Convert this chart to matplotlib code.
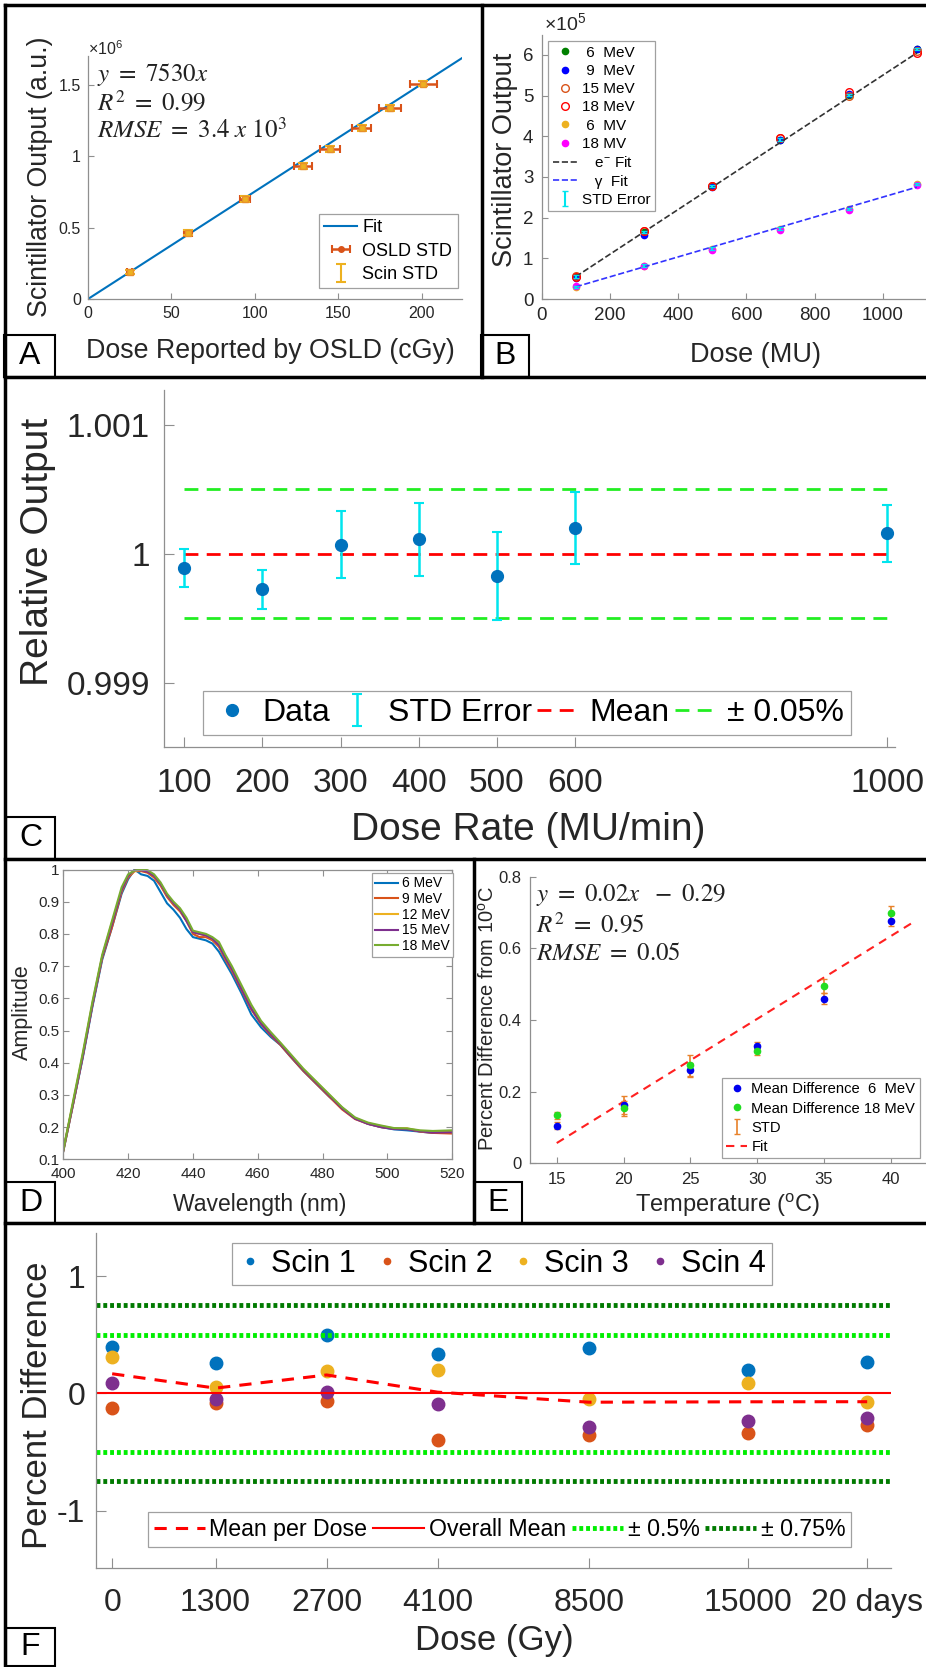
import numpy as np
import matplotlib
matplotlib.use('Agg')
import matplotlib.pyplot as plt
from matplotlib.lines import Line2D
from matplotlib.patches import Rectangle
from matplotlib.ticker import FuncFormatter

plt.rcParams['font.family'] = ['Liberation Sans', 'DejaVu Sans']
plt.rcParams['mathtext.fontset'] = 'custom'
plt.rcParams['mathtext.rm'] = 'Liberation Sans'
plt.rcParams['mathtext.it'] = 'Liberation Sans:italic'

W, H = 926, 1667

# ---------------- data ----------------
# A: scintillator vs OSLD
osld_dose = [25, 60, 94, 129, 145, 164, 181, 201]
osld_std = [1.5, 2.5, 3, 5.5, 6, 5.5, 6.5, 8]
scin_out = [0.19e6, 0.465e6, 0.70e6, 0.93e6, 1.05e6, 1.20e6, 1.34e6, 1.51e6]
scin_std = [0.015e6, 0.02e6, 0.02e6, 0.02e6, 0.02e6, 0.02e6, 0.02e6, 0.02e6]
fit_a_slope = 7530
fit_a_range = [0, 224]

# B: output vs MU
mu = [100, 300, 500, 700, 900, 1100]
out_6mev = [55000, 165000, 278000, 392000, 502000, 615000]
out_9mev = [52000, 158000, 276000, 390000, 503000, 615000]
out_15mev = [56000, 168000, 277000, 395000, 500000, 610000]
out_18mev = [55000, 167000, 277000, 395000, 508000, 605000]
out_6mv = [30000, 82000, 124000, 173000, 221000, 283000]
out_18mv = [33000, 80000, 120000, 169000, 218000, 280000]
std_b = [3000, 3000, 3000, 3000, 3000, 3000]
e_fit = (550, 0)
g_fit = (245, 5500)

# C: dose rate
dose_rate = [100, 200, 300, 400, 500, 600, 1000]
rel_out = [0.99989, 0.999724, 1.00007, 1.000111, 0.999827, 1.000198, 1.000159]
rel_err = [0.000148, 0.000153, 0.000262, 0.000286, 0.000343, 0.000281, 0.00022]
rel_mean = 1.0
rel_tol = 0.0005

# D: spectra
wl = [400, 403, 406, 409, 412, 415, 418, 420, 422, 424, 426, 428, 430, 432, 434,
      436, 438, 440, 442, 444, 446, 448, 450, 452, 455, 458, 461, 464, 467, 470,
      474, 478, 482, 486, 490, 494, 498, 502, 506, 510, 514, 520]
amp_6 = [0.125, 0.27, 0.415, 0.575, 0.72, 0.82, 0.925, 0.97, 1.0, 0.985, 0.98, 0.965,
         0.93, 0.895, 0.875, 0.85, 0.815, 0.79, 0.785, 0.78, 0.77, 0.745, 0.71, 0.675,
         0.615, 0.55, 0.51, 0.48, 0.455, 0.42, 0.375, 0.335, 0.295, 0.26, 0.228, 0.21,
         0.2, 0.193, 0.19, 0.186, 0.182, 0.182]
amp_9 = [0.125, 0.27, 0.42, 0.58, 0.725, 0.82, 0.93, 0.975, 0.995, 0.995, 0.99, 0.975,
         0.95, 0.915, 0.89, 0.87, 0.84, 0.80, 0.79, 0.79, 0.78, 0.76, 0.72, 0.685,
         0.625, 0.565, 0.52, 0.485, 0.455, 0.42, 0.375, 0.335, 0.295, 0.255, 0.225,
         0.21, 0.2, 0.195, 0.195, 0.186, 0.182, 0.18]
amp_12 = [0.13, 0.275, 0.425, 0.585, 0.73, 0.835, 0.935, 0.98, 0.995, 1.0, 0.995, 0.98,
          0.955, 0.92, 0.895, 0.875, 0.845, 0.805, 0.8, 0.795, 0.785, 0.765, 0.725, 0.69,
          0.63, 0.57, 0.525, 0.49, 0.46, 0.425, 0.38, 0.34, 0.3, 0.26, 0.228, 0.212,
          0.203, 0.196, 0.196, 0.188, 0.185, 0.186]
amp_15 = [0.128, 0.272, 0.42, 0.58, 0.728, 0.83, 0.935, 0.98, 0.998, 0.998, 0.993, 0.98,
          0.955, 0.92, 0.895, 0.875, 0.84, 0.805, 0.8, 0.795, 0.785, 0.765, 0.725, 0.69,
          0.628, 0.568, 0.522, 0.488, 0.458, 0.423, 0.378, 0.338, 0.298, 0.258, 0.226,
          0.21, 0.2, 0.194, 0.193, 0.187, 0.183, 0.184]
amp_18 = [0.128, 0.28, 0.43, 0.59, 0.735, 0.84, 0.945, 0.985, 0.997, 1.0, 0.998, 0.985,
          0.96, 0.925, 0.9, 0.88, 0.85, 0.81, 0.805, 0.8, 0.79, 0.775, 0.735, 0.70,
          0.64, 0.58, 0.53, 0.495, 0.462, 0.428, 0.382, 0.342, 0.302, 0.262, 0.23,
          0.214, 0.205, 0.197, 0.196, 0.19, 0.188, 0.19]

# E: temperature
temp = [15, 20, 25, 30, 35, 40]
diff_6 = [0.105, 0.163, 0.26, 0.328, 0.46, 0.677]
diff_18 = [0.134, 0.153, 0.273, 0.313, 0.495, 0.698]
std_6 = [0.01, 0.025, 0.02, 0.01, 0.015, 0.015]
std_18 = [0.01, 0.02, 0.03, 0.01, 0.02, 0.02]
fit_e = (0.0231, -0.29)
fit_e_range = [15, 41.8]

# F: dose stability
dose_labels = ['0', '1300', '2700', '4100', '8500', '15000', '20 days']
dose_pos = [0, 0.932, 1.932, 2.932, 4.295, 5.732, 6.802]
scin1 = [0.398, 0.261, 0.497, 0.335, 0.384, 0.199, 0.27]
scin2 = [-0.122, -0.085, -0.065, -0.398, -0.35, -0.335, -0.273]
scin3 = [0.307, 0.057, 0.19, 0.199, -0.048, 0.088, -0.071]
scin4 = [0.088, -0.051, 0.009, -0.091, -0.284, -0.236, -0.207]
overall_mean = 0.0

# ---------------- helpers ----------------
fig = plt.figure(figsize=(W / 100, H / 100), dpi=100)
TICK = '#262626'
SPINE = '#8f8f8f'


def add_ax(l, t, r, b):
    return fig.add_axes([l / W, 1 - b / H, (r - l) / W, (b - t) / H])


def style(ax, fs, box=False, pad=4, length=4):
    for s in ['top', 'right']:
        ax.spines[s].set_visible(box)
    for s in ax.spines.values():
        s.set_color(SPINE)
        s.set_linewidth(0.9)
    ax.tick_params(direction='in', length=length, width=0.8, color=SPINE,
                   labelcolor=TICK, labelsize=fs, pad=pad,
                   top=box, right=box)


def labels(ax, xl, yl, xpos, ypos, fs, yfs=None):
    ax.set_xlabel(xl, fontsize=fs, color=TICK)
    ax.set_ylabel(yl, fontsize=yfs or fs, color=TICK)
    p = ax.get_position()
    ax.xaxis.set_label_coords((xpos[0] / W - p.x0) / p.width,
                              ((1 - xpos[1] / H) - p.y0) / p.height)
    ax.yaxis.set_label_coords((ypos[0] / W - p.x0) / p.width,
                              ((1 - ypos[1] / H) - p.y0) / p.height)
    ax.xaxis.label.set_va('center')
    ax.yaxis.label.set_va('center')


def put_legend(ax, handles, names, l, t, **kw):
    leg = ax.legend(handles, names, loc='upper left',
                    bbox_to_anchor=(l / W, 1 - t / H),
                    bbox_transform=fig.transFigure, borderaxespad=0,
                    fancybox=False, framealpha=1, edgecolor='#a0a0a0', **kw)
    leg.get_frame().set_linewidth(0.9)
    return leg


def fig_line(x0, y0, x1, y1, lw=2.5):
    fig.add_artist(Line2D([x0 / W, x1 / W], [1 - y0 / H, 1 - y1 / H],
                          transform=fig.transFigure, color='black', lw=lw))


def tag(letter, l, t, r, b):
    fig.add_artist(Rectangle((l / W, 1 - b / H), (r - l) / W, (b - t) / H,
                             transform=fig.transFigure, fill=False,
                             ec='black', lw=1.5))
    fig.text((l + r) / 2 / W, 1 - (t + b) / 2 / H, letter, ha='center',
             va='center', fontsize=23)


# ---------------- panel A ----------------
axA = add_ax(88, 56.4, 462, 299)
xs = np.array(fit_a_range)
axA.plot(xs, fit_a_slope * xs, color='#0072BD', lw=1.5)
hA2 = axA.errorbar(osld_dose, scin_out, xerr=osld_std, fmt='o', color='#D95319',
                   ms=4, capsize=3, elinewidth=1.8, capthick=1.5)
axA.errorbar(osld_dose, scin_out, yerr=scin_std, fmt='s', color='#EDB120',
             mfc='#EDB120', mec='#E8902A', ms=5, capsize=3.5,
             elinewidth=1.5, capthick=1.5)
# legend-only handle for the scintillator error bars (no marker)
hA3 = axA.errorbar([np.nan], [np.nan], yerr=[1], fmt='none', ecolor='#EDB120',
                   capsize=3.5, elinewidth=1.5, capthick=1.5)
axA.set_xlim(0, 224.2)
axA.set_ylim(0, 1.7e6)
axA.set_xticks([0, 50, 100, 150, 200])
axA.set_yticks([0, 0.5e6, 1e6, 1.5e6])
axA.yaxis.set_major_formatter(FuncFormatter(lambda v, p: f'{v / 1e6:g}'))
style(axA, 11.5, pad=5)
labels(axA, 'Dose Reported by OSLD (cGy)', 'Scintillator Output (a.u.)',
       (270, 351), (40, 177), 19.3)
fig.text(88 / W, 1 - 49 / H, r'$\times10^{6}$', fontsize=11.5, color=TICK,
         ha='left', va='center')
hfit = Line2D([], [], color='#0072BD', lw=1.5)
put_legend(axA, [hfit, hA2, hA3], ['Fit', 'OSLD STD', 'Scin STD'], 319, 214,
           fontsize=13, handlelength=1.8, handletextpad=0.3, labelspacing=0.35,
           borderpad=0.3)
for i, s in enumerate([r'$y\ =\ 7530x$', r'$R^2\ =\ 0.99$',
                       r'$RMSE\ =\ 3.4\ x\ 10^3$']):
    fig.text(97 / W, 1 - (75 + 27.5 * i) / H, s, fontsize=18,
             math_fontfamily='stix', ha='left', va='center', color='#222222')

# ---------------- panel B ----------------
axB = add_ax(541.7, 34.6, 933.9, 299)
mu_a = np.array(mu)
h6 = axB.plot(mu, out_6mev, 'o', color='#008000', ms=4.5, ls='none')[0]
h9 = axB.plot(mu, out_9mev, 'o', color='#0000FF', ms=4.5, ls='none')[0]
h15 = axB.plot(mu, out_15mev, 'o', mfc='none', mec='#D95319', ms=5.5, ls='none')[0]
h18 = axB.plot(mu, out_18mev, 'o', mfc='none', mec='#FF0000', ms=5.5, ls='none')[0]
h6mv = axB.plot(mu, out_6mv, 'o', color='#EDB120', ms=4.5, ls='none')[0]
h18mv = axB.plot(mu, out_18mv, 'o', color='#FF00FF', ms=4.5, ls='none')[0]
he = axB.plot(mu, e_fit[0] * mu_a + e_fit[1], '--', color='#333333', lw=1.2)[0]
hg = axB.plot(mu, g_fit[0] * mu_a + g_fit[1], '--', color='#3333FF', lw=1.2)[0]
hstd = axB.errorbar(mu, out_6mev, yerr=std_b, fmt='none', ecolor='#00E5EE',
                    capsize=2, elinewidth=1.5)
axB.errorbar(mu, out_6mv, yerr=std_b, fmt='none', ecolor='#00E5EE',
             capsize=2, elinewidth=1.5)
axB.set_xlim(0, 1150)
axB.set_ylim(0, 6.5e5)
axB.set_xticks([0, 200, 400, 600, 800, 1000])
axB.set_yticks([0, 1e5, 2e5, 3e5, 4e5, 5e5, 6e5])
axB.yaxis.set_major_formatter(FuncFormatter(lambda v, p: f'{v / 1e5:g}'))
style(axB, 13.5, pad=6)
labels(axB, 'Dose (MU)', 'Scintillator Output', (755, 355), (505, 160), 19.5)
fig.text(544 / W, 1 - 23 / H, r'$\times10^{5}$', fontsize=14, color=TICK,
         ha='left', va='center')
put_legend(axB, [h6, h9, h15, h18, h6mv, h18mv, he, hg, hstd],
           [' 6  MeV', ' 9  MeV', '15 MeV', '18 MeV', ' 6  MV', '18 MV',
            '   e$^{-}$ Fit', '   \u03b3  Fit', 'STD Error'], 548, 41,
           fontsize=11, handlelength=1.6, handletextpad=0.3, labelspacing=0.28,
           borderpad=0.3)

# ---------------- panel C ----------------
axC = add_ax(164, 390, 895, 747)
hline = [dose_rate[0], dose_rate[-1]]
hm = axC.plot(hline, [rel_mean] * 2, color='#FF0000', ls=(0, (5, 3)), lw=2)[0]
ht = axC.plot(hline, [rel_mean + rel_tol] * 2, color='#22EE22', ls=(0, (5, 3)), lw=2)[0]
axC.plot(hline, [rel_mean - rel_tol] * 2, color='#22EE22', ls=(0, (5, 3)), lw=2)
hce = axC.errorbar(dose_rate, rel_out, yerr=rel_err, fmt='none', ecolor='#00E5EE',
                   capsize=3.5, elinewidth=1.8, capthick=1.5)
hcd = axC.plot(dose_rate, rel_out, 'o', color='#0072BD', ms=8.5, ls='none')[0]
axC.set_xlim(74, 1010)
axC.set_ylim(0.9985, 1.00127)
axC.set_xticks(dose_rate)
axC.set_yticks([0.999, 1.0, 1.001])
axC.set_yticklabels(['0.999', '1', '1.001'])
style(axC, 24, pad=15, length=7)
axC.tick_params(axis='y', pad=10)
labels(axC, 'Dose Rate (MU/min)', 'Relative Output', (528, 830), (38, 552), 28)
put_legend(axC, [hcd, hce, hm, ht], ['Data', 'STD Error', 'Mean', '\u00b1 0.05%'],
           203, 691, fontsize=23, ncol=4, handlelength=1.35, handletextpad=0.3,
           columnspacing=0.15, borderpad=0.22)

# ---------------- panel D ----------------
axD = add_ax(63.3, 869.5, 452.3, 1159.3)
colors = ['#0072BD', '#D95319', '#EDB120', '#7E2F8E', '#77AC30']
names_d = ['6 MeV', '9 MeV', '12 MeV', '15 MeV', '18 MeV']
hd = []
for amp, c in zip([amp_6, amp_9, amp_12, amp_15, amp_18], colors):
    hd.append(axD.plot(wl, amp, color=c, lw=1.5)[0])
axD.set_xlim(400, 520)
axD.set_ylim(0.1, 1.0)
axD.set_xticks(range(400, 521, 20))
axD.set_yticks(np.arange(0.1, 1.01, 0.1))
axD.yaxis.set_major_formatter(FuncFormatter(lambda v, p: f'{v:g}'))
style(axD, 11, box=True, pad=3)
axD.tick_params(axis='x', pad=5.5)
labels(axD, 'Wavelength (nm)', 'Amplitude', (260, 1204), (22, 1012), 16.5, 15.5)
put_legend(axD, hd, names_d, 372, 873, fontsize=10, handlelength=1.6,
           handletextpad=0.3, labelspacing=0.12, borderpad=0.25)

# ---------------- panel E ----------------
axE = add_ax(530, 876.7, 930.8, 1163.3)
fx = np.array(fit_e_range)
hef = axE.plot(fx, fit_e[0] * fx + fit_e[1], color='#FF2020', ls=(0, (4, 3)), lw=1.5)[0]
hes = axE.errorbar(temp, diff_6, yerr=std_6, fmt='none', ecolor='#E8822A',
                   capsize=2.5, elinewidth=1.2)
axE.errorbar(temp, diff_18, yerr=std_18, fmt='none', ecolor='#E8822A',
             capsize=2.5, elinewidth=1.2)
he6 = axE.plot(temp, diff_6, 'o', color='#0000EE', ms=4.5, ls='none')[0]
he18 = axE.plot(temp, diff_18, 'o', color='#22DD22', ms=4.5, ls='none')[0]
axE.set_xlim(13, 43)
axE.set_ylim(0, 0.8)
axE.set_xticks(temp)
axE.set_yticks([0, 0.2, 0.4, 0.6, 0.8])
axE.yaxis.set_major_formatter(FuncFormatter(lambda v, p: f'{v:g}'))
style(axE, 12, pad=6)
labels(axE, 'Temperature ($^{\\mathrm{o}}$C)', 'Percent Difference from 10$^{\\mathrm{o}}$C',
       (728, 1205), (488, 1019), 17, 14.5)
put_legend(axE, [he6, he18, hes, hef],
           ['Mean Difference  6  MeV', 'Mean Difference 18 MeV', 'STD', 'Fit'],
           722, 1078, fontsize=10.6, handlelength=1.4, handletextpad=0.3,
           labelspacing=0.35, borderpad=0.3)
for i, s in enumerate([r'$y\ =\ 0.02x\ \ -\ 0.29$', r'$R^2\ =\ 0.95$',
                       r'$RMSE\ =\ 0.05$']):
    fig.text(536 / W, 1 - (895 + 29 * i) / H, s, fontsize=18,
             math_fontfamily='stix', ha='left', va='center', color='#222222')

# ---------------- panel F ----------------
axF = add_ax(96.3, 1233.3, 890.7, 1568.3)
s_cols = ['#0072BD', '#D95319', '#EDB120', '#7E2F8E']
hs = []
for vals, c in zip([scin1, scin2, scin3, scin4], s_cols):
    hs.append(axF.plot(dose_pos, vals, 'o', color=c, ms=9, ls='none')[0])
mean_dose = np.mean([scin1, scin2, scin3, scin4], axis=0)
hmd = axF.plot(dose_pos, mean_dose, color='#FF0000', ls=(0, (4, 3)), lw=2.2)[0]
hom = axF.axhline(overall_mean, color='#FF0000', lw=1.5)
h05 = axF.axhline(0.5, color='#00EE00', ls=(0, (0.8, 0.6)), lw=3.5)
axF.axhline(-0.5, color='#00EE00', ls=(0, (0.8, 0.6)), lw=3.5)
h075 = axF.axhline(0.75, color='#007A00', ls=(0, (0.8, 0.6)), lw=3.5)
axF.axhline(-0.75, color='#007A00', ls=(0, (0.8, 0.6)), lw=3.5)
axF.set_xlim(-0.143, 7.014)
axF.set_ylim(-1.49, 1.365)
axF.set_xticks(dose_pos)
axF.set_xticklabels(dose_labels)
axF.set_yticks([-1, 0, 1])
axF.set_yticklabels(['-1', '0', '1'])
style(axF, 23, pad=14, length=7)
axF.tick_params(axis='y', pad=8)
labels(axF, 'Dose (Gy)', 'Percent Difference', (494, 1640), (38, 1405), 25)
leg1 = put_legend(axF, hs, ['Scin 1', 'Scin 2', 'Scin 3', 'Scin 4'], 231.5, 1243,
                  fontsize=22, ncol=4, handlelength=0.8, handletextpad=0.3,
                  columnspacing=0.6, borderpad=0.2, markerscale=0.5)
axF.add_artist(leg1)
put_legend(axF, [hmd, hom, h05, h075],
           ['Mean per Dose', 'Overall Mean', '\u00b1 0.5%', '\u00b1 0.75%'],
           148, 1512, fontsize=16.7, ncol=4, handlelength=2.2, handletextpad=0.2,
           columnspacing=0.25, borderpad=0.25)

# ---------------- frame and panel tags ----------------
fig_line(5, 5, W, 5)
fig_line(5, 5, 5, H)
fig_line(5, 377, W, 377)
fig_line(482, 5, 482, 377)
fig_line(5, 859, W, 859)
fig_line(474, 859, 474, 1223)
fig_line(5, 1223, W, 1223)
tag('A', 4, 335, 55, 377)
tag('B', 481, 335, 529, 377)
tag('C', 6, 817, 55, 859)
tag('D', 6, 1182, 55, 1223)
tag('E', 474, 1182, 522, 1223)
tag('F', 6, 1628, 55, 1666)

fig.savefig('out.png', dpi=100)
